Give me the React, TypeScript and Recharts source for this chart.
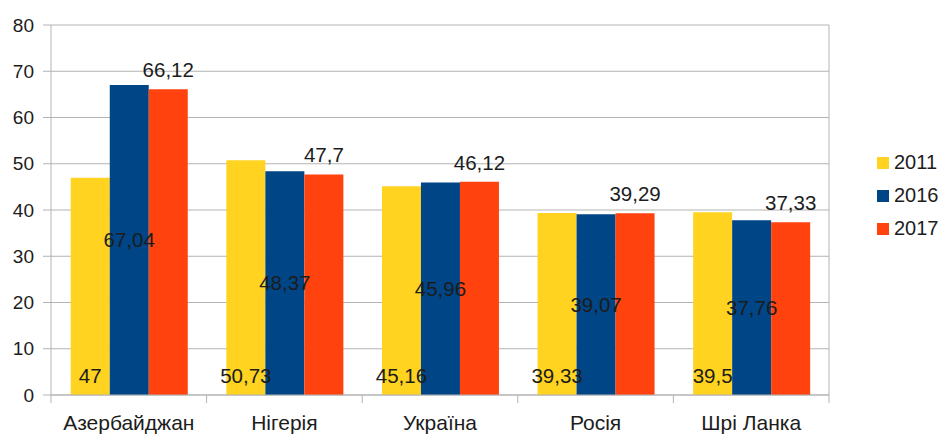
import React from "react";
import { BarChart, Bar, XAxis, YAxis, CartesianGrid, Legend, LabelList } from "recharts";

const categories = ["Азербайджан", "Нігерія", "Україна", "Росія", "Шрі Ланка"];
const series2011 = [47, 50.73, 45.16, 39.33, 39.5];
const series2016 = [67.04, 48.37, 45.96, 39.07, 37.76];
const series2017 = [66.12, 47.7, 46.12, 39.29, 37.33];
const yTicks = [0, 10, 20, 30, 40, 50, 60, 70, 80];
const seriesNames = ["2011", "2016", "2017"];
const colors = ["#ffd320", "#004586", "#ff420e"];

const data = categories.map((c, i) => ({
  name: c,
  y2011: series2011[i],
  y2016: series2016[i],
  y2017: series2017[i],
}));

const FONT = "'Liberation Sans', Arial, sans-serif";
const GRID = "#b3b3b3";
const TEXT = "#1c1c1c";

const fmt = (v: any) => String(v).replace(".", ",");

const XTick = (props: any) => {
  const { x, y, payload, index, visibleTicksCount, width } = props;
  const band = width / visibleTicksCount;
  return (
    <g>
      <line x1={x - band / 2} x2={x - band / 2} y1={y - 8} y2={y} stroke={GRID} strokeWidth={1} />
      {index === visibleTicksCount - 1 && (
        <line x1={x + band / 2} x2={x + band / 2} y1={y - 8} y2={y} stroke={GRID} strokeWidth={1} />
      )}
      <text x={x} y={y + 27} textAnchor="middle" fill={TEXT} fontSize={21} fontFamily={FONT}>
        {payload.value}
      </text>
    </g>
  );
};

const LegendContent = (props: any) => {
  const { payload } = props;
  return (
    <div style={{ fontFamily: FONT, fontSize: 20, color: TEXT }}>
      {payload.map((p: any, i: number) => (
        <div key={i} style={{ display: "flex", alignItems: "center", height: 33 }}>
          <div style={{ width: 12, height: 12, background: p.color, marginRight: 5 }} />
          <span>{p.value}</span>
        </div>
      ))}
    </div>
  );
};

export default function App() {
  return (
    <div style={{ position: "absolute", left: 0, top: 0, background: "#fff" }}>
      <BarChart
        width={943}
        height={434}
        data={data}
        margin={{ top: 25, right: 0, bottom: 0, left: 0 }}
        barCategoryGap="12.7%"
        barGap={0}
      >
        <CartesianGrid vertical={false} stroke={GRID} strokeWidth={1} />
        <XAxis
          dataKey="name"
          height={39}
          axisLine={{ stroke: GRID }}
          tickLine={false}
          tickSize={8}
          tickMargin={0}
          tick={<XTick />}
          interval={0}
        />
        <YAxis
          domain={[0, 80]}
          ticks={yTicks}
          width={51}
          axisLine={{ stroke: GRID }}
          tickLine={{ stroke: GRID }}
          tickSize={8}
          tickMargin={9}
          tick={{ fill: TEXT, fontSize: 19, fontFamily: FONT }}
          interval={0}
        />
        <YAxis
          yAxisId="right"
          orientation="right"
          domain={[0, 80]}
          width={114}
          tick={false}
          tickLine={false}
          axisLine={{ stroke: GRID }}
        />
        <Legend
          layout="vertical"
          align="center"
          verticalAlign="middle"
          content={<LegendContent />}
          wrapperStyle={{ left: 877, top: 146, width: 66 }}
        />
        <Bar dataKey="y2011" name={seriesNames[0]} fill={colors[0]} isAnimationActive={false}>
          <LabelList dataKey="y2011" position="insideBottom" offset={12} formatter={fmt} fill={TEXT} fontSize={20.5} fontFamily={FONT} />
        </Bar>
        <Bar dataKey="y2016" name={seriesNames[1]} fill={colors[1]} isAnimationActive={false}>
          <LabelList dataKey="y2016" position="center" formatter={fmt} fill={TEXT} fontSize={20.5} fontFamily={FONT} />
        </Bar>
        <Bar dataKey="y2017" name={seriesNames[2]} fill={colors[2]} isAnimationActive={false}>
          <LabelList dataKey="y2017" position="top" offset={12} formatter={fmt} fill={TEXT} fontSize={20.5} fontFamily={FONT} />
        </Bar>
      </BarChart>
    </div>
  );
}
